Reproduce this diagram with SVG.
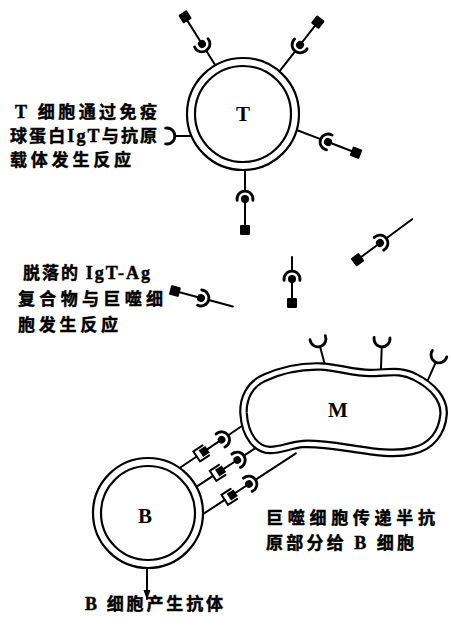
<svg xmlns="http://www.w3.org/2000/svg" xmlns:xlink="http://www.w3.org/1999/xlink" width="451" height="630" viewBox="0 0 451 630">
  <style>
    .ln { stroke: #000; stroke-width: 2; fill: none; stroke-linecap: round; }
    .cup { stroke: #000; stroke-width: 2.8; fill: none; stroke-linecap: round; }
    .blk { fill: #000; }
    .mem { fill: #fff; stroke: #000; stroke-width: 2.2; }
    .memi { fill: none; stroke: #000; stroke-width: 2.2; }
    .lbl { font-family: "Noto Sans CJK SC", "Noto Sans", sans-serif; font-weight: 700; font-size: 17px; fill: #000; stroke: #000; stroke-width: 0.45; }
    .lat { font-family: "Liberation Serif", "DejaVu Serif", serif; font-weight: 700; font-size: 18px; }
    .cell { font-family: "Liberation Serif", "DejaVu Serif", serif; font-weight: 700; font-size: 21px; text-anchor: middle; fill: #000; }
  </style>
  <defs>
    <!-- receptor cup: arc on the -x side, opening toward +x -->
    <path id="cup" class="cup" d="M1.4,-7.9 A8,8 0 1 0 1.4,7.9"/>
    <!-- macrophage outline, stroked twice to give a double membrane -->
    <path id="m-outline" d="M243.5,413 C243,398 250,384 264,378 C277,372 298,366 320,366.5 C338,367 352,373 370,373 C388,373 400,369 415,377 C433,386 445,400 443.5,415 C442,432 432,447 412,451 C395,455 375,452 355,449 C335,446 318,443 303,444 C290,445 282,450 270,450 C258,450 245,438 243.5,413 Z"/>
    <marker id="arr" viewBox="0 0 10 10" refX="9" refY="5" markerWidth="10" markerHeight="10" markerUnits="userSpaceOnUse" orient="auto">
      <path d="M0,1.5 L10,5 L0,8.5 Z" fill="#000"/>
    </marker>
  </defs>

  <rect width="451" height="630" fill="#fff"/>

  <!-- connectors: macrophage-to-B-cell bridges and the antibody arrow -->
  <g id="connectors">
    <g id="bridge1" transform="translate(221.6,439.7) rotate(146)">
      <line class="ln" x1="-8" y1="0" x2="-24" y2="0"/>
      <use xlink:href="#cup"/>
      <circle r="3.8" class="blk"/>
      <line class="ln" x1="0" y1="0" x2="21" y2="0"/>
      <rect class="blk" x="17" y="-4" width="8" height="8"/>
      <path class="ln" d="M19,-6 L30,-6 L30,6 L19,6" stroke-width="1.8"/>
      <line class="ln" x1="30" y1="0" x2="52" y2="0"/>
    </g>
    <g id="bridge2" transform="translate(237.3,460) rotate(146.8)">
      <line class="ln" x1="-8" y1="0" x2="-24" y2="0"/>
      <use xlink:href="#cup"/>
      <circle r="3.8" class="blk"/>
      <line class="ln" x1="0" y1="0" x2="20" y2="0"/>
      <rect class="blk" x="16" y="-4" width="8" height="8"/>
      <path class="ln" d="M18,-6 L29,-6 L29,6 L18,6" stroke-width="1.8"/>
      <line class="ln" x1="29" y1="0" x2="50" y2="0"/>
    </g>
    <g id="bridge3" transform="translate(249,484) rotate(146.8)">
      <line class="ln" x1="-8" y1="0" x2="-56" y2="0"/>
      <use xlink:href="#cup"/>
      <circle r="3.8" class="blk"/>
      <line class="ln" x1="0" y1="0" x2="20" y2="0"/>
      <rect class="blk" x="16" y="-4" width="8" height="8"/>
      <path class="ln" d="M18,-6 L29,-6 L29,6 L18,6" stroke-width="1.8"/>
      <line class="ln" x1="29" y1="0" x2="56" y2="0"/>
    </g>
    <line id="antibody-arrow" class="ln" x1="147" y1="566" x2="147" y2="599" marker-end="url(#arr)"/>
  </g>

  <!-- T cell with its IgT receptors -->
  <g id="t-cell">
    <g transform="translate(202,44) rotate(-122)">
      <line class="ln" x1="-8" y1="0" x2="-26" y2="0"/>
      <use xlink:href="#cup"/>
      <circle r="4" class="blk"/>
      <line class="ln" x1="0" y1="0" x2="32" y2="0"/>
      <rect class="blk" x="27" y="-5" width="10" height="10" rx="1.2"/>
    </g>
    <g transform="translate(300,45) rotate(-52)">
      <line class="ln" x1="-8" y1="0" x2="-34" y2="0"/>
      <use xlink:href="#cup"/>
      <circle r="4" class="blk"/>
      <line class="ln" x1="0" y1="0" x2="29" y2="0"/>
      <rect class="blk" x="24" y="-5" width="10" height="10" rx="1.2"/>
    </g>
    <g transform="translate(328,142) rotate(21)">
      <line class="ln" x1="-8" y1="0" x2="-35" y2="0"/>
      <use xlink:href="#cup"/>
      <circle r="4" class="blk"/>
      <line class="ln" x1="0" y1="0" x2="30" y2="0"/>
      <rect class="blk" x="25" y="-5" width="10" height="10" rx="1.2"/>
    </g>
    <g transform="translate(245,199) rotate(90)">
      <line class="ln" x1="-8" y1="0" x2="-32" y2="0"/>
      <use xlink:href="#cup"/>
      <circle r="4" class="blk"/>
      <line class="ln" x1="0" y1="0" x2="31" y2="0"/>
      <rect class="blk" x="26" y="-5" width="10" height="10" rx="1.2"/>
    </g>
    <g transform="translate(167,136) rotate(180)">
      <line class="ln" x1="-8" y1="0" x2="-24" y2="0"/>
      <use xlink:href="#cup"/>
    </g>
    <circle class="mem" cx="243" cy="114" r="56"/>
    <circle class="memi" cx="243" cy="114" r="48"/>
    <text class="cell" x="243" y="121">T</text>
  </g>

  <!-- shed IgT-Ag complexes -->
  <g id="complex1" transform="translate(380,243) rotate(143.5)">
    <line class="ln" x1="-8" y1="0" x2="-40" y2="0"/>
    <use xlink:href="#cup"/>
    <circle r="4" class="blk"/>
    <line class="ln" x1="0" y1="0" x2="28" y2="0"/>
    <rect class="blk" x="23" y="-5" width="10" height="10" rx="1.2"/>
  </g>
  <g id="complex2" transform="translate(292,279) rotate(90)">
    <line class="ln" x1="-8" y1="0" x2="-22" y2="0"/>
    <use xlink:href="#cup"/>
    <circle r="4" class="blk"/>
    <line class="ln" x1="0" y1="0" x2="24" y2="0"/>
    <rect class="blk" x="19" y="-5" width="10" height="10" rx="1.2"/>
  </g>
  <g id="complex3" transform="translate(201,298) rotate(-165)">
    <line class="ln" x1="-8" y1="0" x2="-33" y2="0"/>
    <use xlink:href="#cup"/>
    <circle r="4" class="blk"/>
    <line class="ln" x1="0" y1="0" x2="27" y2="0"/>
    <rect class="blk" x="22" y="-5" width="10" height="10" rx="1.2"/>
  </g>

  <!-- macrophage with free receptors on top -->
  <g id="m-cell">
    <g transform="translate(318,339) rotate(-105)">
      <line class="ln" x1="-8" y1="0" x2="-28" y2="0"/>
      <use xlink:href="#cup"/>
    </g>
    <g transform="translate(382,339) rotate(-88)">
      <line class="ln" x1="-8" y1="0" x2="-32" y2="0"/>
      <use xlink:href="#cup"/>
    </g>
    <g transform="translate(439,355) rotate(-66)">
      <line class="ln" x1="-8" y1="0" x2="-34" y2="0"/>
      <use xlink:href="#cup"/>
    </g>
    <use xlink:href="#m-outline" fill="#fff" stroke="#000" stroke-width="8.6" stroke-linejoin="round"/>
    <use xlink:href="#m-outline" fill="none" stroke="#fff" stroke-width="4.2" stroke-linejoin="round"/>
    <text class="cell" x="338" y="417">M</text>
  </g>

  <!-- B cell -->
  <g id="b-cell">
    <circle class="mem" cx="148" cy="513" r="55"/>
    <circle class="memi" cx="148" cy="513" r="47"/>
    <text class="cell" x="145" y="523">B</text>
  </g>

  <!-- labels -->
  <g id="labels">
    <text class="lbl" x="15" y="118" textLength="142" lengthAdjust="spacing"><tspan class="lat">T</tspan> 细胞通过免疫</text>
    <text class="lbl" x="10" y="142" textLength="147" lengthAdjust="spacing">球蛋白<tspan class="lat">IgT</tspan>与抗原</text>
    <text class="lbl" x="10" y="166" textLength="121" lengthAdjust="spacing">载体发生反应</text>
    <text class="lbl" x="23" y="279" textLength="127" lengthAdjust="spacing">脱落的 <tspan class="lat">IgT-Ag</tspan></text>
    <text class="lbl" x="18" y="305" textLength="145" lengthAdjust="spacing">复合物与巨噬细</text>
    <text class="lbl" x="18" y="331" textLength="100" lengthAdjust="spacing">胞发生反应</text>
    <text class="lbl" x="266" y="524" textLength="169" lengthAdjust="spacing">巨噬细胞传递半抗</text>
    <text class="lbl" x="266" y="549" textLength="148" lengthAdjust="spacing">原部分给 <tspan class="lat">B</tspan> 细胞</text>
    <text class="lbl" x="85" y="610" textLength="138" lengthAdjust="spacing"><tspan class="lat">B</tspan> 细胞产生抗体</text>
  </g>
</svg>
